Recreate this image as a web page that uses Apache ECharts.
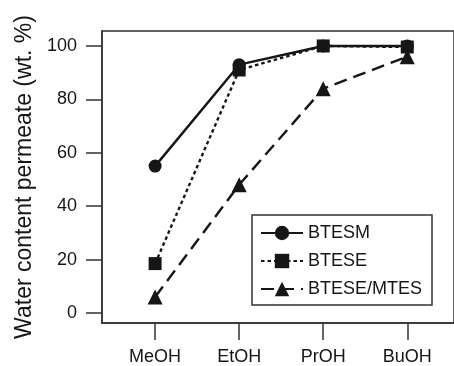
<!DOCTYPE html>
<html>
<head>
<meta charset="utf-8">
<script src="https://cdn.jsdelivr.net/npm/echarts@6/dist/echarts.min.js"></script>
<style>
html, body {margin: 0; padding: 0; background: #fff;}
#chart {width: 454px; height: 366px;}
</style>
</head>
<body>
<div id="chart"></div>
<script>
var solvents = ['MeOH', 'EtOH', 'PrOH', 'BuOH'];
var yTicks = [0, 20, 40, 60, 80, 100];
var btesm = [55, 93, 100, 100];
var btese = [18.5, 91, 100, 99.6];
var bteseMtes = [6, 48, 84, 96];

var font = "'Liberation Sans', Arial, sans-serif";
var ink = '#161616';

function pairs(vals) {
    var out = [];
    for (var i = 0; i < vals.length; i++) {
        out.push([i, vals[i]]);
    }
    return out;
}

var chart = echarts.init(document.getElementById('chart'), null, {renderer: 'canvas'});
chart.setOption({
    animation: false,
    grid: {
        left: 102, top: 31, right: -4, bottom: 43,
        show: true, borderColor: '#333', borderWidth: 1.5
    },
    xAxis: {
        type: 'value',
        min: -0.632,
        max: 3.556,
        splitLine: {show: false},
        axisLine: {show: true, onZero: false, lineStyle: {color: '#333', width: 1.5}},
        axisTick: {show: true, customValues: [0, 1, 2, 3], length: 17, lineStyle: {color: '#333', width: 1.5}},
        axisLabel: {
            customValues: [0, 1, 2, 3],
            margin: 25,
            fontSize: 18,
            fontFamily: font,
            color: ink,
            formatter: function(v) { return solvents[Math.round(v)]; }
        }
    },
    yAxis: {
        type: 'value',
        min: -3.75,
        max: 105.6,
        name: 'Water content permeate (wt. %)',
        nameLocation: 'middle',
        nameGap: 62,
        nameTextStyle: {fontSize: 23, fontFamily: font, color: ink},
        splitLine: {show: false},
        axisLine: {show: true, onZero: false, lineStyle: {color: '#333', width: 1.5}},
        axisTick: {show: true, customValues: yTicks, length: 16, lineStyle: {color: '#333', width: 1.5}},
        axisLabel: {
            customValues: yTicks,
            margin: 25,
            fontSize: 18,
            fontFamily: font,
            color: ink
        }
    },
    legend: {
        orient: 'vertical',
        left: 252,
        top: 215,
        padding: [9, 10, 7, 8],
        borderColor: '#333',
        borderWidth: 1.5,
        itemWidth: 42,
        itemHeight: 18,
        itemGap: 10,
        textStyle: {fontSize: 18, lineHeight: 18, fontFamily: font, color: ink},
        data: ['BTESM', 'BTESE', 'BTESE/MTES']
    },
    series: [{
        name: 'BTESE/MTES',
        type: 'line',
        data: pairs(bteseMtes),
        symbol: 'triangle',
        symbolSize: 15,
        color: ink,
        lineStyle: {color: ink, width: 2.4, type: [13, 7]},
        itemStyle: {color: ink}
    }, {
        name: 'BTESE',
        type: 'line',
        data: pairs(btese),
        symbol: 'rect',
        symbolSize: 13,
        color: ink,
        lineStyle: {color: ink, width: 2.4, type: [3.5, 3]},
        itemStyle: {color: ink}
    }, {
        name: 'BTESM',
        type: 'line',
        data: pairs(btesm),
        symbol: 'circle',
        symbolSize: 13,
        color: ink,
        lineStyle: {color: ink, width: 2.4},
        itemStyle: {color: ink}
    }]
});
</script>
</body>
</html>
